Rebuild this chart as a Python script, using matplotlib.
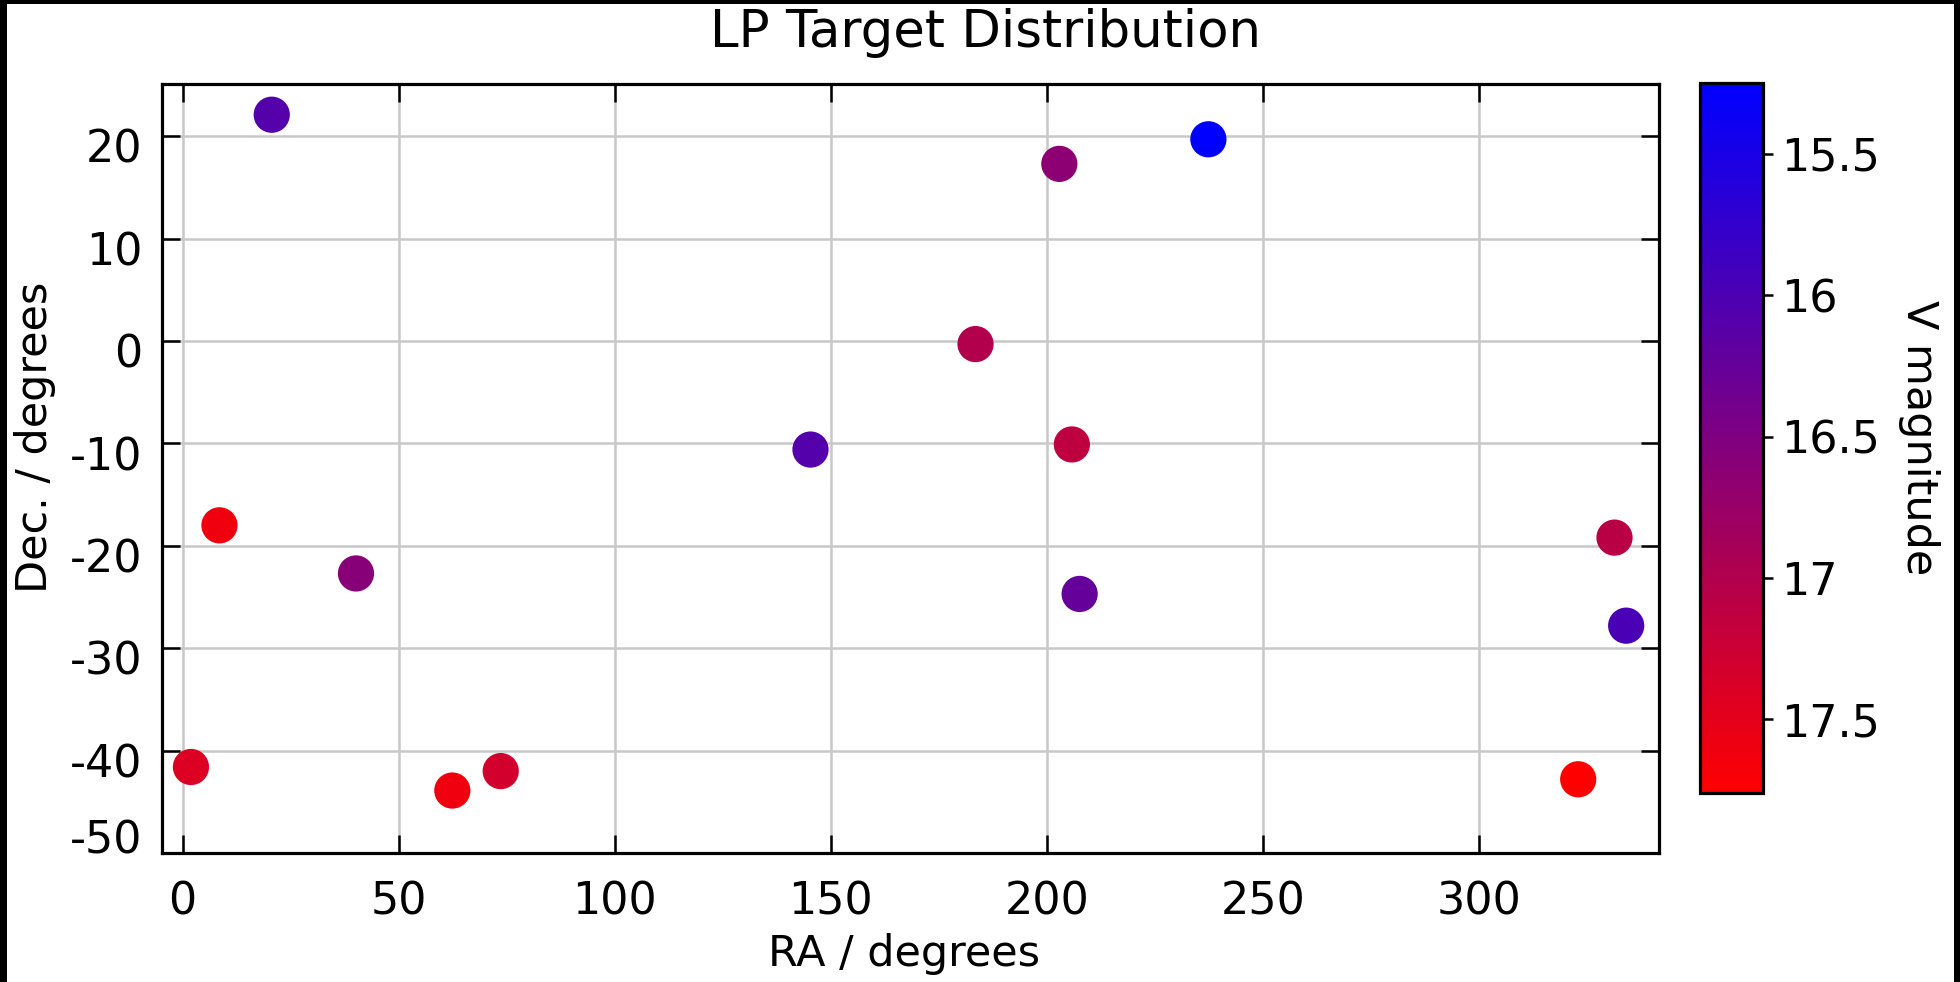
import numpy as np
import matplotlib
matplotlib.use('Agg')
import matplotlib.pyplot as plt
from matplotlib.colors import LinearSegmentedColormap
from matplotlib.patches import Rectangle
from matplotlib.ticker import FormatStrFormatter
import matplotlib.transforms as mtransforms

plt.rcParams['font.family'] = ['DejaVu Sans']
plt.rcParams['axes.unicode_minus'] = False

# Target positions (degrees) and V magnitudes
ra = [20.6, 8.5, 40.1, 1.9, 62.4, 73.6, 145.3, 183.5, 202.9, 205.8, 207.6, 237.4, 323.0, 331.4, 334.1]
dec = [22.1, -18.0, -22.7, -41.6, -43.9, -42.0, -10.6, -0.3, 17.3, -10.1, -24.7, 19.7, -42.8, -19.2, -27.8]
vmag = [16.08, 17.61, 16.59, 17.41, 17.61, 17.31, 16.08, 17.01, 16.63, 17.13, 16.25, 15.25, 17.76, 17.08, 15.98]

xticks = [0, 50, 100, 150, 200, 250, 300]
yticks = [-50, -40, -30, -20, -10, 0, 10, 20]
cticks = [15.5, 16, 16.5, 17, 17.5]

W, H = 1960, 982
fig = plt.figure(figsize=(W / 100, H / 100), dpi=100, facecolor='black')
# white page inside the thin black frame
fig.add_artist(Rectangle((7 / W, 0), (1954 - 7) / W, (H - 4) / H, transform=fig.transFigure,
                         facecolor='white', edgecolor='none', zorder=-1))

ax = fig.add_axes([162 / W, 1 - 853 / H, 1497 / W, 769 / H])
cax = fig.add_axes([1700 / W, 1 - 793 / H, 63 / W, 710 / H])

cmap = LinearSegmentedColormap.from_list('blue_red', ['#0000ff', '#ff0000'])
sc = ax.scatter(ra, dec, c=vmag, cmap=cmap, s=680, edgecolors='none', zorder=3)

ax.set_xlim(-4.8, 341.7)
ax.set_ylim(-49.9, 25.1)
ax.set_xticks(xticks)
ax.set_yticks(yticks)
ax.grid(True, color='#c8c8c8', linewidth=1.8)
ax.set_axisbelow(True)
ax.tick_params(direction='in', length=13, width=1.8, top=True, right=True,
               labelsize=32, pad=14)
ax.tick_params(axis='x', pad=20)
for sp in ax.spines.values():
    sp.set_linewidth(2.3)

# nudge y tick labels down a little, the bottom one up, like the original
down = mtransforms.ScaledTranslation(0, -7 / 72, fig.dpi_scale_trans)
up = mtransforms.ScaledTranslation(0, 12 / 72, fig.dpi_scale_trans)
for lab, v in zip(ax.get_yticklabels(), yticks):
    lab.set_transform(lab.get_transform() + (up if v == -50 else down))

ax.set_xlabel('RA / degrees', fontsize=31, va='center')
ax.xaxis.set_label_coords(0.496, -0.131)
ax.set_ylabel('Dec. / degrees', fontsize=31, va='center')
ax.yaxis.set_label_coords((35 - 162) / 1497, 0.54)

fig.text(0.503, 1 - 33 / H, 'LP Target Distribution', fontsize=37, ha='center', va='center')

cb = fig.colorbar(sc, cax=cax)
cax.invert_yaxis()
cb.set_ticks(cticks)
cb.ax.yaxis.set_major_formatter(FormatStrFormatter('%g'))
cb.ax.tick_params(direction='out', length=7, width=1.8, labelsize=32, pad=6)
cb.outline.set_linewidth(2.3)
cb.ax.set_ylabel('V magnitude', fontsize=31, rotation=270, va='center', ha='center')
cb.ax.yaxis.set_label_coords((1919 - 1700) / 63, 0.5)

fig.savefig('out.png', dpi=100, facecolor=fig.get_facecolor())
